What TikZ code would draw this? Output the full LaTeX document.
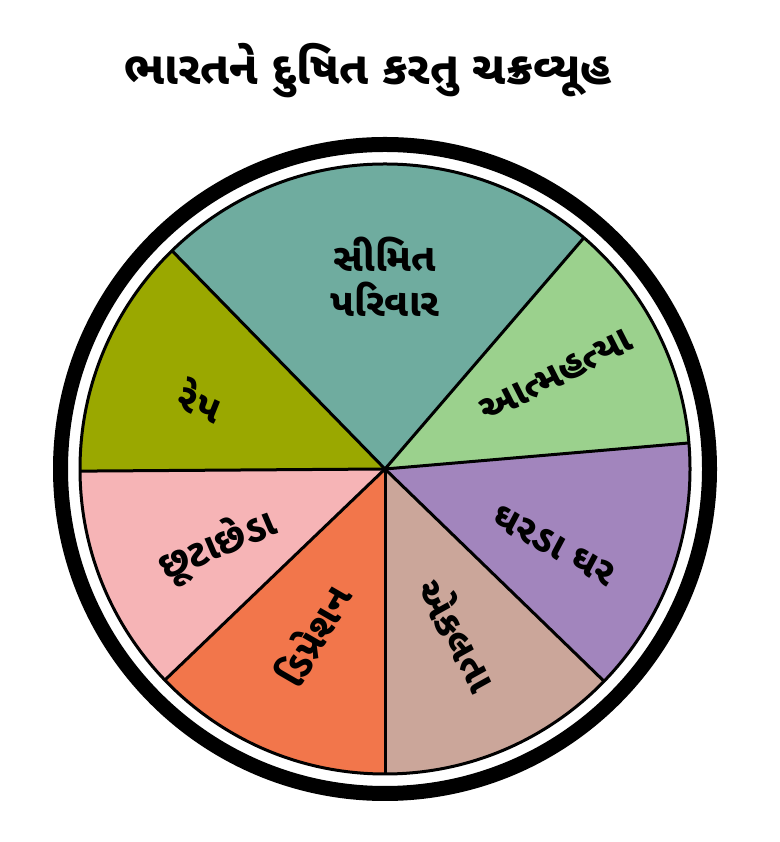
\documentclass[tikz,border=0pt]{standalone}
\usepackage{fontspec}
\usepackage{tikz}
\newfontfamily\gujfont[Script=Gujarati]{Noto Sans Gujarati UI}
\definecolor{segteal}{HTML}{6FAC9F}
\definecolor{seggreen}{HTML}{9BD18D}
\definecolor{segpurple}{HTML}{A285BD}
\definecolor{segtan}{HTML}{CBA69A}
\definecolor{segorange}{HTML}{F2764B}
\definecolor{segpink}{HTML}{F6B4B6}
\definecolor{segolive}{HTML}{9AA800}

\begin{document}
\begin{tikzpicture}[x=1pt, y=1pt,
    wedge/.style={draw=black, line width=3pt, line join=round},
    lbl/.style={font=\gujfont\bfseries\fontsize{38.5}{45}\selectfont, align=center, inner sep=0pt},
    ttl/.style={font=\gujfont\bfseries\fontsize{46}{54}\selectfont, inner sep=0pt}]

    \useasboundingbox (0,0) rectangle (779,842);
    \coordinate (C) at (385,373);

    % wedges
    \fill[segteal]   (C) -- ++(49.3:305pt)  arc[start angle=49.3,  end angle=134.3, radius=305pt] -- cycle;
    \fill[segolive]  (C) -- ++(134.3:305pt) arc[start angle=134.3, end angle=180.4, radius=305pt] -- cycle;
    \fill[segpink]   (C) -- ++(180.4:305pt) arc[start angle=180.4, end angle=223.8, radius=305pt] -- cycle;
    \fill[segorange] (C) -- ++(223.8:305pt) arc[start angle=223.8, end angle=270,   radius=305pt] -- cycle;
    \fill[segtan]    (C) -- ++(270:305pt)   arc[start angle=270,   end angle=315.9, radius=305pt] -- cycle;
    \fill[segpurple] (C) -- ++(315.9:305pt) arc[start angle=315.9, end angle=364.9, radius=305pt] -- cycle;
    \fill[seggreen]  (C) -- ++(4.9:305pt)   arc[start angle=4.9,   end angle=49.3,  radius=305pt] -- cycle;

    % spokes
    \draw[wedge] (C) -- ++(49.3:305pt);
    \draw[wedge] (C) -- ++(134.3:305pt);
    \draw[wedge] (C) -- ++(180.4:305pt);
    \draw[wedge] (C) -- ++(223.8:305pt);
    \draw[wedge] (C) -- ++(270:305pt);
    \draw[wedge] (C) -- ++(315.9:305pt);
    \draw[wedge] (C) -- ++(4.9:305pt);

    % rims
    \draw[line width=3pt] (C) circle[radius=305pt];
    \draw[line width=15pt] (C) circle[radius=324.5pt];

    \node[ttl, anchor=base] (title) at (368,757) {ભારતને દુષિત કરતુ ચક્રવ્યૂહ};

    \node[lbl] (parivar) at (385,565) {સીમિત\\પરિવાર};
    \node[lbl, rotate=27] (aatma) at (556,466) {આત્મહત્યા};
    \node[lbl, rotate=-28] (ghar) at (554,296) {ઘરડા ઘર};
    \node[lbl, rotate=-61] (ekal) at (459,208) {એકલતા};
    \node[lbl, rotate=60] (depr) at (312,207) {ડિપ્રેશન};
    \node[lbl, rotate=23] (chhuta) at (218,296) {છૂટાછેડા};
    \node[lbl, rotate=-22] (rep) at (201,442) {રેપ};
\end{tikzpicture}
\end{document}
